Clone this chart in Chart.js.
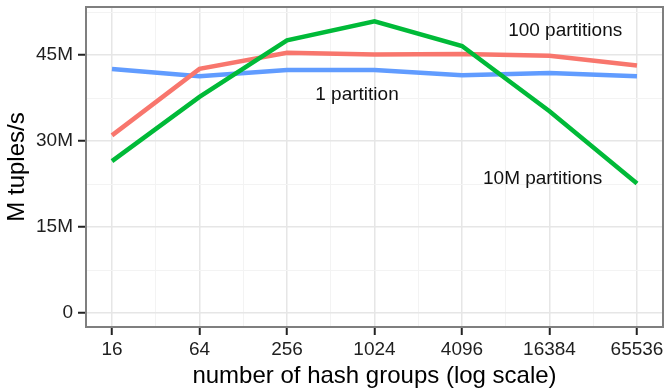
<!DOCTYPE html>
<html lang="en">
<head>
    <meta charset="UTF-8">
    <title>Hash groups throughput</title>
    <script src="https://cdn.jsdelivr.net/npm/chart.js"></script>
    <style>
        body { margin: 0; background: #fff; }
        #wrap { width: 667px; height: 392px; }
    </style>
</head>
<body>
    <div id="wrap"><canvas id="chart" width="667" height="392"></canvas></div>

    <script>
        // number of hash groups (x axis, log2 spaced)
        var hashGroups = [16, 64, 256, 1024, 4096, 16384, 65536];

        // M tuples/s per series
        var onePartition = [42.6, 41.3, 42.4, 42.4, 41.5, 41.9, 41.3];
        var hundredPartitions = [31.0, 42.6, 45.4, 45.1, 45.2, 44.9, 43.2];
        var tenMPartitions = [26.5, 37.7, 47.6, 50.9, 46.6, 35.2, 22.6];

        var yTicks = [0, 15, 30, 45];

        // direct labels next to the lines: [text, hash groups, M tuples/s]
        var seriesLabels = [
            ["100 partitions", 21000, 49.2],
            ["1 partition", 776, 38.0],
            ["10M partitions", 14700, 23.5]
        ];

        var fontFamily = "'Liberation Sans', Arial, Helvetica, sans-serif";

        function toPoints(values) {
            return values.map(function (v, i) { return { x: Math.log2(hashGroups[i]), y: v }; });
        }

        // grey frame round the panel plus the text labels
        var panelPlugin = {
            id: 'panel',
            afterDraw: function (chart) {
                var ctx = chart.ctx, a = chart.chartArea;
                var xs = chart.scales.x, ys = chart.scales.y;
                ctx.save();
                ctx.font = "19px " + fontFamily;
                ctx.fillStyle = "#111";
                ctx.textAlign = "center";
                ctx.textBaseline = "middle";
                seriesLabels.forEach(function (l) {
                    ctx.fillText(l[0], xs.getPixelForValue(Math.log2(l[1])), ys.getPixelForValue(l[2]));
                });
                ctx.strokeStyle = "#7f7f7f";
                ctx.lineWidth = 2;
                ctx.strokeRect(a.left, a.top, a.right - a.left, a.bottom - a.top);
                ctx.restore();
            }
        };

        var ctx = document.getElementById('chart').getContext('2d');
        var chart = new Chart(ctx, {
            type: 'line',
            data: {
                datasets: [
                    { label: '10M partitions', data: toPoints(tenMPartitions), borderColor: '#00BA38', order: 0 },
                    { label: '100 partitions', data: toPoints(hundredPartitions), borderColor: '#F8766D', order: 1 },
                    { label: '1 partition', data: toPoints(onePartition), borderColor: '#619CFF', order: 2 }
                ]
            },
            options: {
                responsive: false,
                animation: false,
                layout: { padding: { top: 7, right: 4, left: 0, bottom: 0 } },
                elements: {
                    line: { borderWidth: 4.5, tension: 0, fill: false },
                    point: { radius: 0 }
                },
                plugins: {
                    legend: { display: false },
                    tooltip: { enabled: false }
                },
                scales: {
                    x: {
                        type: 'linear',
                        min: 3.406,
                        max: 16.594,
                        afterBuildTicks: function (s) {
                            var t = [];
                            for (var v = 4; v <= 16; v++) t.push({ value: v });
                            s.ticks = t;
                        },
                        afterFit: function (s) {
                            s.height = 65;
                            s.paddingLeft = 0;
                            s.paddingRight = 0;
                        },
                        border: { display: false },
                        grid: {
                            color: function (c) { return c.tick && c.tick.value % 2 === 0 ? '#e6e6e6' : '#f3f3f3'; },
                            lineWidth: function (c) { return c.tick && c.tick.value % 2 === 0 ? 1.5 : 1; },
                            tickColor: function (c) { return c.tick && c.tick.value % 2 === 0 ? '#222' : 'rgba(0,0,0,0)'; },
                            tickWidth: 2,
                            tickLength: 8
                        },
                        ticks: {
                            autoSkip: false,
                            maxRotation: 0,
                            padding: 3,
                            color: '#1f1f1f',
                            font: { family: fontFamily, size: 19 },
                            callback: function (v) { return v % 2 === 0 ? String(Math.pow(2, v)) : ''; }
                        },
                        title: {
                            display: true,
                            text: 'number of hash groups (log scale)',
                            color: '#000',
                            font: { family: fontFamily, size: 24 },
                            padding: { top: 0, bottom: 1 }
                        }
                    },
                    y: {
                        min: -2.44,
                        max: 53.4,
                        afterBuildTicks: function (s) {
                            var t = [];
                            for (var v = 0; v <= 52.5; v += 7.5) t.push({ value: v });
                            s.ticks = t;
                        },
                        afterFit: function (s) {
                            s.width = 86;
                            s.paddingTop = 0;
                            s.paddingBottom = 0;
                        },
                        border: { display: false },
                        grid: {
                            color: function (c) { return c.tick && yTicks.indexOf(c.tick.value) >= 0 ? '#e6e6e6' : '#f3f3f3'; },
                            lineWidth: function (c) { return c.tick && yTicks.indexOf(c.tick.value) >= 0 ? 1.5 : 1; },
                            tickColor: function (c) { return c.tick && yTicks.indexOf(c.tick.value) >= 0 ? '#222' : 'rgba(0,0,0,0)'; },
                            tickWidth: 2,
                            tickLength: 8
                        },
                        ticks: {
                            autoSkip: false,
                            padding: 5,
                            color: '#1f1f1f',
                            font: { family: fontFamily, size: 19 },
                            callback: function (v) {
                                if (yTicks.indexOf(v) < 0) return '';
                                return v === 0 ? '0' : v + 'M';
                            }
                        },
                        title: {
                            display: true,
                            text: 'M tuples/s',
                            color: '#000',
                            font: { family: fontFamily, size: 24 },
                            padding: { top: 3, bottom: 0 }
                        }
                    }
                }
            },
            plugins: [panelPlugin]
        });
    </script>
</body>
</html>
